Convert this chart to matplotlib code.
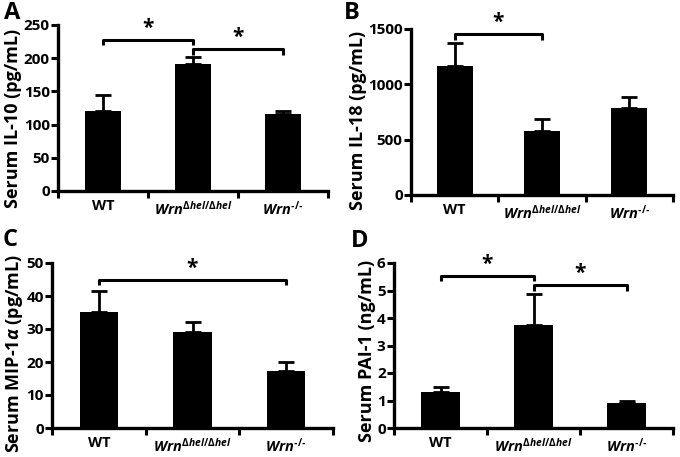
import matplotlib
matplotlib.use("Agg")
import matplotlib.pyplot as plt

plt.rcParams['font.family'] = ['Open Sans', 'DejaVu Sans']
plt.rcParams['font.weight'] = 'bold'
plt.rcParams['mathtext.fontset'] = 'custom'
plt.rcParams['mathtext.rm'] = 'Open Sans:bold'
plt.rcParams['mathtext.it'] = 'Open Sans:italic:bold'
plt.rcParams['mathtext.bf'] = 'Open Sans:bold'

categories = ['WT', r'$Wrn^{\Delta hel/\Delta hel}$', '$Wrn^{\u2010/\u2010}$']

il10_mean = [120, 191, 116]
il10_err = [25, 11, 5]
il18_mean = [1170, 579, 790]
il18_err = [208, 109, 93]
mip_mean = [35.1, 29.0, 17.4]
mip_err = [6.3, 3.1, 2.5]
pai_mean = [1.30, 3.76, 0.91]
pai_err = [0.18, 1.11, 0.09]

il10_ticks = [0, 50, 100, 150, 200, 250]
il18_ticks = [0, 500, 1000, 1500]
mip_ticks = [0, 10, 20, 30, 40, 50]
pai_ticks = [0, 1, 2, 3, 4, 5, 6]

# brackets: (start index, end index, height)
il10_brackets = [(0, 1, 228), (1, 2, 214)]
il18_brackets = [(0, 1, 1456)]
mip_brackets = [(0, 2, 45.0)]
pai_brackets = [(0, 1, 5.54), (1, 2, 5.21)]

W, H = 680, 457
fig = plt.figure(figsize=(W / 100, H / 100), dpi=100)


def px_axes(left, right, top, bottom):
    return fig.add_axes([left / W, 1 - bottom / H, (right - left) / W, (bottom - top) / H])


def panel(ax, means, errs, ticks, ylabel, brackets, letter, letter_xy, label_y):
    x = list(range(len(categories)))
    ax.bar(x, means, width=0.41, color='black', zorder=2)
    ax.errorbar(x, means, yerr=[[0] * len(errs), errs], fmt='none', ecolor='black',
                elinewidth=2.0, capsize=5.5, capthick=2.0, zorder=3)
    ymax = ticks[-1]
    ax.set_xlim(-0.5, 2.5)
    ax.set_ylim(0, ymax)
    ax.set_yticks(ticks)
    ax.set_yticklabels([str(t) for t in ticks], fontsize=11, fontweight='bold')
    ax.set_xticks([-0.5, 0.5, 1.5, 2.5])
    ax.set_xticklabels([])
    ax.set_xticks(x, minor=True)
    ax.set_xticklabels(categories, minor=True, fontsize=10.5, fontweight='bold')
    ax.tick_params(axis='x', which='minor', length=0, pad=6)
    ax.tick_params(axis='x', which='major', direction='out', length=5, width=2.2)
    ax.tick_params(axis='y', direction='out', length=5, width=2.2, pad=1)
    for s in ['top', 'right']:
        ax.spines[s].set_visible(False)
    for s in ['left', 'bottom']:
        ax.spines[s].set_linewidth(2.4)
    ax.set_ylabel(ylabel, fontsize=13, fontweight='bold', labelpad=1)
    ax.yaxis.label.set_y(label_y)
    tick = ymax * 0.035
    for i0, i1, h in brackets:
        ax.plot([i0, i0, i1, i1], [h - tick, h, h, h - tick], color='black', lw=2.2,
                clip_on=False, solid_capstyle='butt', zorder=4)
        ax.text((i0 + i1) / 2, h + ymax * 0.005, '*', ha='center', va='bottom',
                fontsize=15, fontweight='bold')
    fig.text(letter_xy[0] / W, 1 - letter_xy[1] / H, letter, fontsize=17, fontweight='bold',
             ha='left', va='top')


axA = px_axes(58, 328, 25, 191)
panel(axA, il10_mean, il10_err, il10_ticks, 'Serum IL-10 (pg/mL)', il10_brackets, 'A', (4, 1), 0.44)
axB = px_axes(411, 673, 29, 195)
panel(axB, il18_mean, il18_err, il18_ticks, 'Serum IL-18 (pg/mL)', il18_brackets, 'B', (344, 1), 0.45)
axC = px_axes(52, 333, 263, 428)
panel(axC, mip_mean, mip_err, mip_ticks, r'Serum MIP-1$\alpha$ (pg/mL)', mip_brackets, 'C', (3, 228), 0.45)
axD = px_axes(394, 673, 263, 428)
panel(axD, pai_mean, pai_err, pai_ticks, 'Serum PAI-1 (ng/mL)', pai_brackets, 'D', (351, 229), 0.47)

fig.savefig('out.png', dpi=100, facecolor='white')
